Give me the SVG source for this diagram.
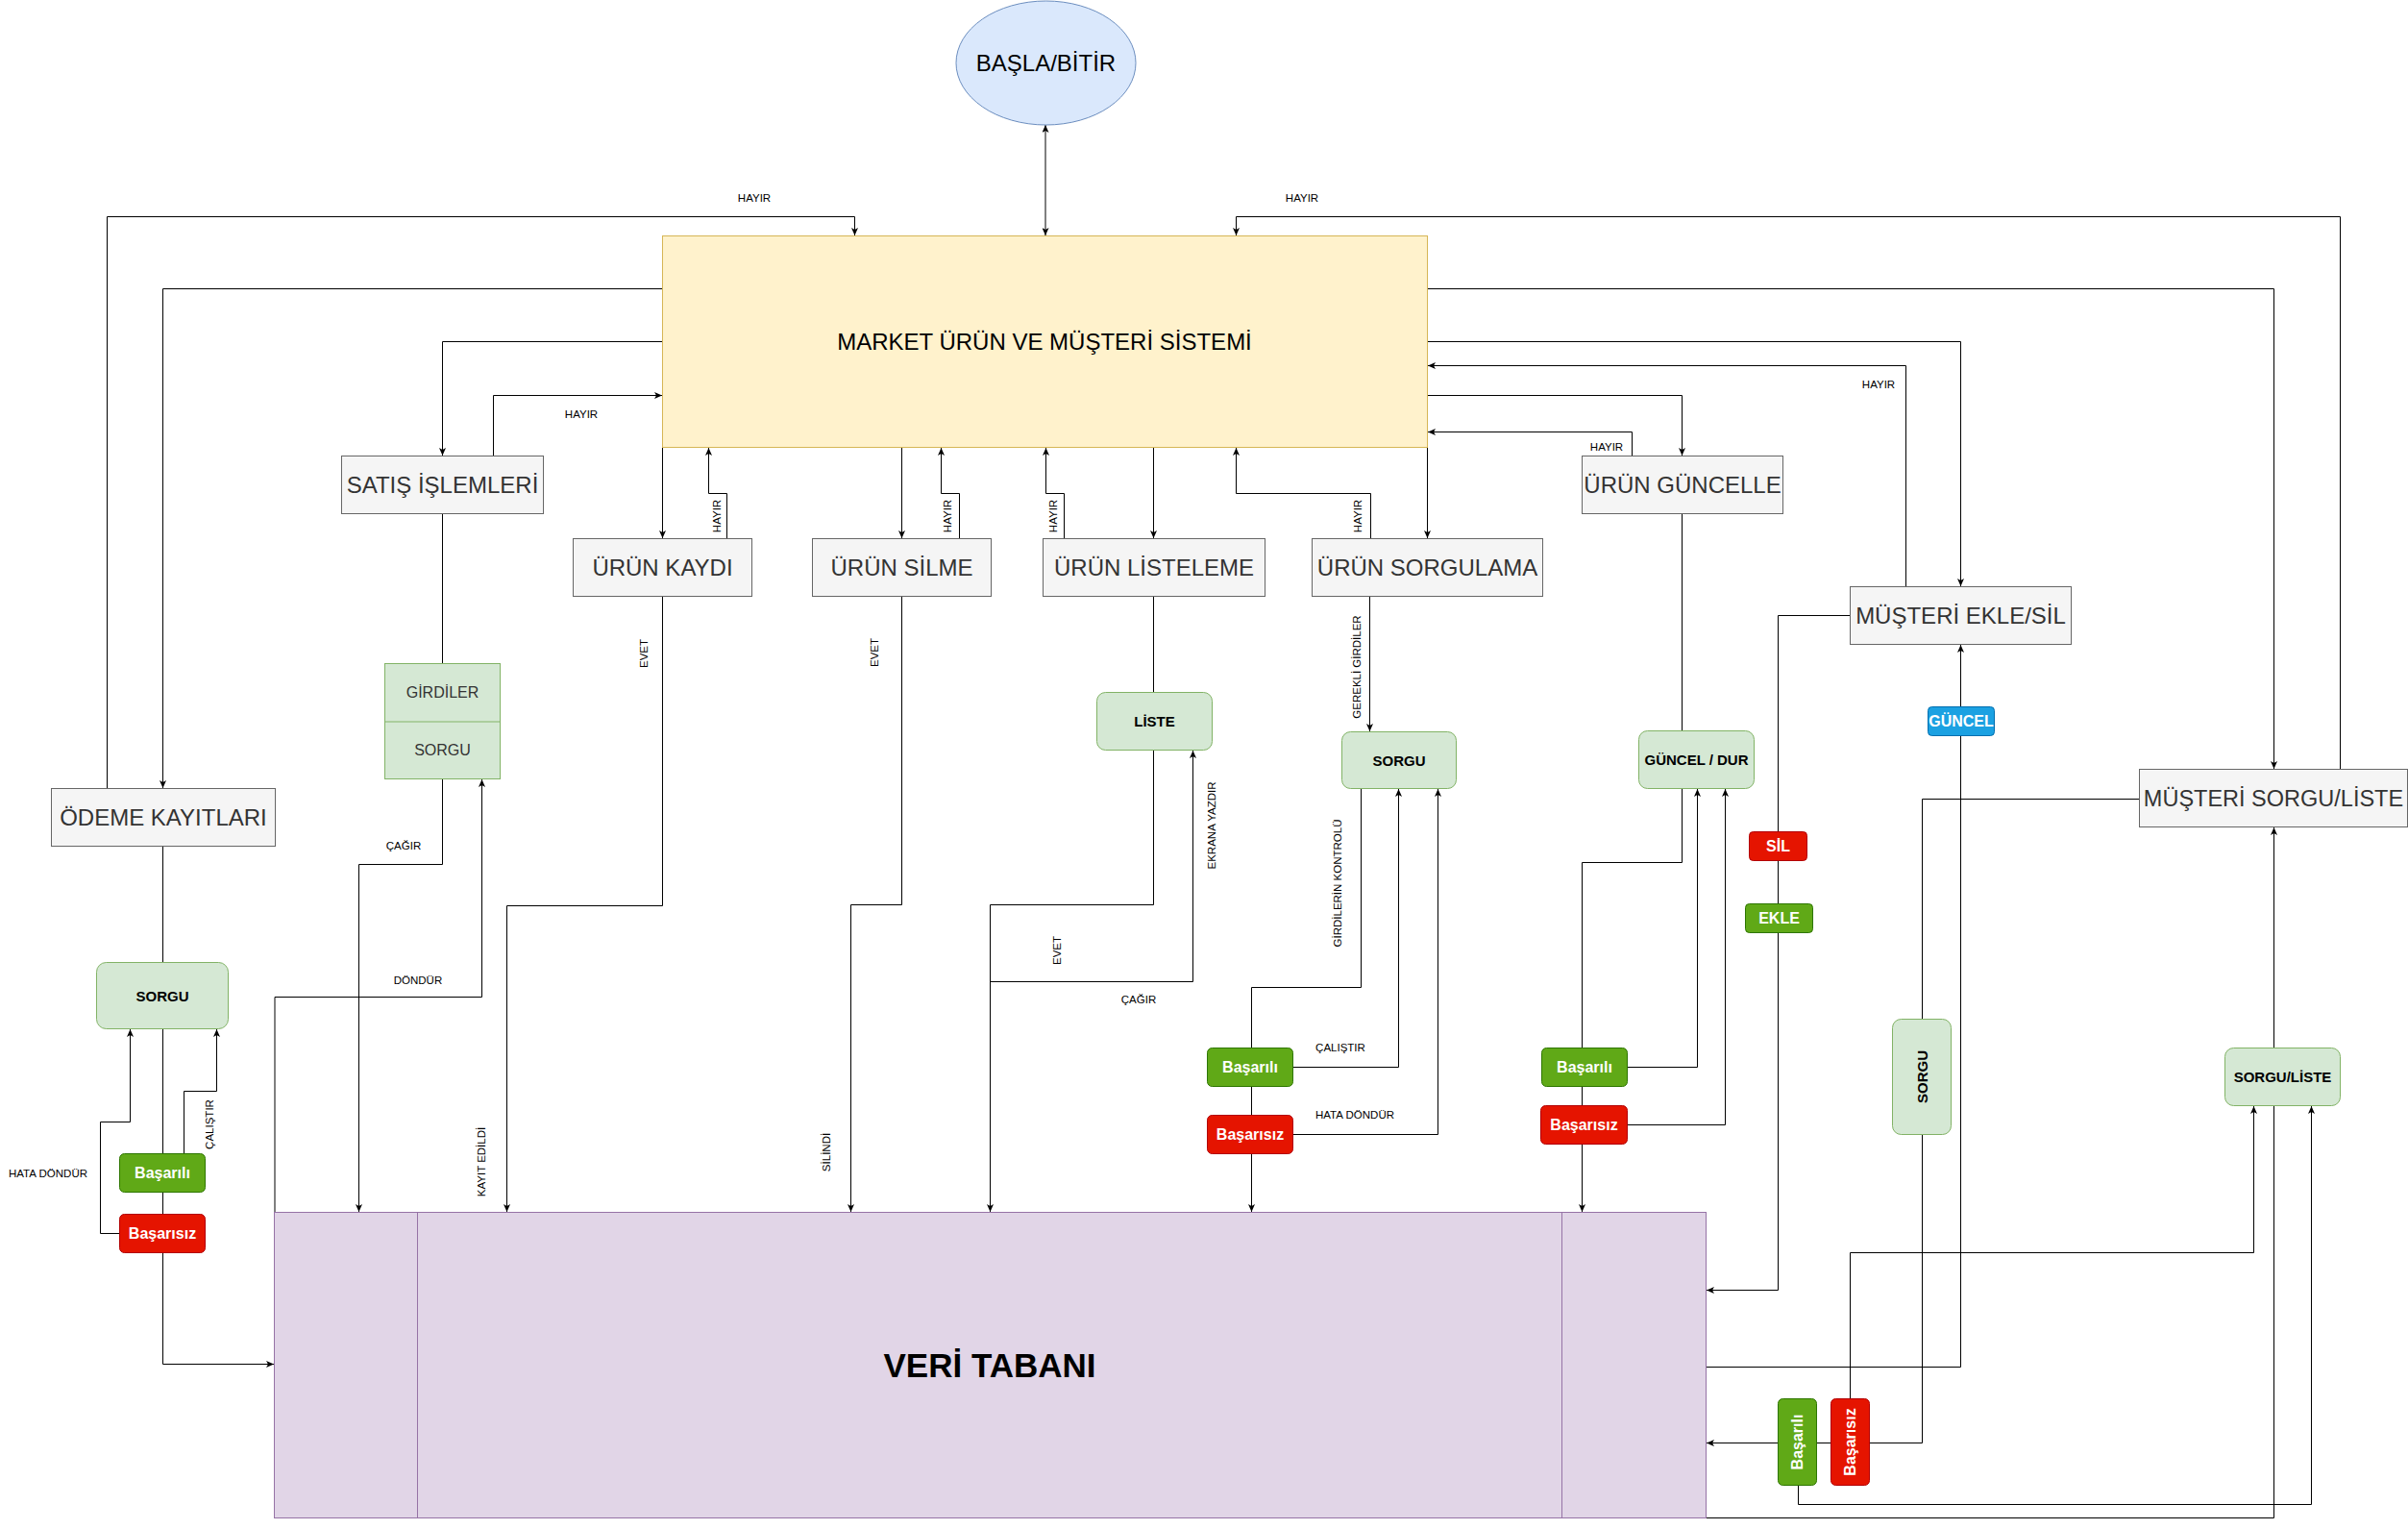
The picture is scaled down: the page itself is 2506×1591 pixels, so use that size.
<svg xmlns="http://www.w3.org/2000/svg" width="2506" height="1591" viewBox="0 0 2506 1591">
<defs>
<marker id="a" viewBox="0 0 8 7" refX="8" refY="3.5" markerWidth="8" markerHeight="7" markerUnits="userSpaceOnUse" orient="auto-start-reverse">
<path d="M0,0 L8,3.5 L0,7 L2,3.5 Z" fill="#000"/>
</marker>
<style>
text{font-family:"Liberation Sans",Arial,sans-serif;}
.e{fill:none;stroke:#000;stroke-width:1;}
.ea{fill:none;stroke:#000;stroke-width:1;marker-end:url(#a);}
.gb{fill:#f5f5f5;stroke:#666;stroke-width:1;}
.gt{font-size:24px;fill:#333;text-anchor:middle;}
.gr{fill:#d5e8d4;stroke:#82b366;stroke-width:1;}
.bt{font-size:15px;font-weight:bold;fill:#000;text-anchor:middle;}
.ok{fill:#60a917;stroke:#2d7600;stroke-width:1;}
.no{fill:#e51400;stroke:#b20000;stroke-width:1;}
.bl{fill:#1ba1e2;stroke:#006eaf;stroke-width:1;}
.wt{font-size:16px;font-weight:bold;fill:#fff;text-anchor:middle;}
.lb{font-size:11.5px;fill:#000;text-anchor:middle;}
</style>
</defs>
<rect x="0" y="0" width="2506" height="1591" fill="#fff"/>

<g id="connectors">
<path class="e" d="M1088,130 L1088,245" marker-start="url(#a)" marker-end="url(#a)"/>
<path class="ea" d="M689.5,300.5 L169.5,300.5 L169.5,820"/>
<path class="ea" d="M111.5,820 L111.5,225.5 L889.5,225.5 L889.5,245"/>
<path class="ea" d="M689.5,355.5 L460.5,355.5 L460.5,474"/>
<path class="ea" d="M513.5,474 L513.5,411.5 L689,411.5"/>
<path class="ea" d="M689.5,465 L689.5,560"/>
<path class="ea" d="M756.5,560 L756.5,513.5 L737.5,513.5 L737.5,466"/>
<path class="ea" d="M938.5,465 L938.5,560"/>
<path class="ea" d="M998.5,560 L998.5,513.5 L979.5,513.5 L979.5,466"/>
<path class="ea" d="M1200.5,465 L1200.5,560"/>
<path class="ea" d="M1107.5,560 L1107.5,513.5 L1088.5,513.5 L1088.5,466"/>
<path class="ea" d="M1485.5,465 L1485.5,560"/>
<path class="ea" d="M1426.5,560 L1426.5,513.5 L1286.5,513.5 L1286.5,466"/>
<path class="ea" d="M1485.5,411.5 L1750.5,411.5 L1750.5,474"/>
<path class="ea" d="M1698.5,474 L1698.5,449.5 L1486,449.5"/>
<path class="ea" d="M1485.5,355.5 L2040.5,355.5 L2040.5,610"/>
<path class="ea" d="M1983.5,610 L1983.5,380.5 L1486,380.5"/>
<path class="ea" d="M1485.5,300.5 L2366.5,300.5 L2366.5,800"/>
<path class="ea" d="M2435.5,800 L2435.5,225.5 L1286.5,225.5 L1286.5,245"/>

<path class="e" d="M169.5,880 L169.5,1001"/>
<path class="ea" d="M169.5,1070 L169.5,1419.5 L285,1419.5"/>
<path class="ea" d="M191.5,1200 L191.5,1135.5 L225.5,1135.5 L225.5,1071"/>
<path class="ea" d="M124,1283.5 L104.5,1283.5 L104.5,1167.5 L135.5,1167.5 L135.5,1071"/>

<path class="e" d="M460.5,534 L460.5,690"/>
<path class="ea" d="M460.5,810 L460.5,899.5 L373.5,899.5 L373.5,1261"/>
<path class="ea" d="M286,1261 L286,1037.5 L501.5,1037.5 L501.5,811"/>

<path class="ea" d="M689.5,620 L689.5,942.5 L527.5,942.5 L527.5,1261"/>
<path class="ea" d="M938.5,620 L938.5,941.5 L885.5,941.5 L885.5,1261"/>
<path class="e" d="M1200.5,620 L1200.5,720"/>
<path class="ea" d="M1200.5,780 L1200.5,941.5 L1030.5,941.5 L1030.5,1261"/>
<path class="ea" d="M1030.5,1261 L1030.5,1021.5 L1241.5,1021.5 L1241.5,781"/>

<path class="ea" d="M1425.5,620 L1425.5,761"/>
<path class="e" d="M1416.5,820 L1416.5,1027.5 L1302.5,1027.5 L1302.5,1090"/>
<path class="ea" d="M1345,1110.5 L1455.5,1110.5 L1455.5,821"/>
<path class="ea" d="M1345,1180.5 L1496.5,1180.5 L1496.5,821"/>
<path class="ea" d="M1302.5,1130 L1302.5,1261"/>

<path class="e" d="M1750.5,534 L1750.5,760"/>
<path class="e" d="M1750.5,820 L1750.5,897.5 L1646.5,897.5 L1646.5,1090"/>
<path class="ea" d="M1693,1110.5 L1766.5,1110.5 L1766.5,821"/>
<path class="ea" d="M1693,1170.5 L1795.5,1170.5 L1795.5,821"/>
<path class="ea" d="M1646.5,1130 L1646.5,1261"/>

<path class="ea" d="M1925,640.5 L1850.5,640.5 L1850.5,1342.5 L1776,1342.5"/>
<path class="ea" d="M1776,1422.5 L2040.5,1422.5 L2040.5,671"/>
<path class="e" d="M2226,831.5 L2000.5,831.5 L2000.5,1060"/>
<path class="ea" d="M2000.5,1180 L2000.5,1501.5 L1776,1501.5"/>
<path class="ea" d="M1925.5,1455 L1925.5,1303.5 L2345.5,1303.5 L2345.5,1151"/>
<path class="ea" d="M1871.5,1545 L1871.5,1565.5 L2405.5,1565.5 L2405.5,1151"/>
<path class="ea" d="M1776,1579.5 L2366.5,1579.5 L2366.5,861"/>

<text class="lb" x="785" y="210">HAYIR</text>
<text class="lb" x="1355" y="210">HAYIR</text>
<text class="lb" x="605" y="435">HAYIR</text>
<text class="lb" x="1672" y="469">HAYIR</text>
<text class="lb" x="1955" y="404">HAYIR</text>
<text class="lb" transform="translate(750,537) rotate(-90)">HAYIR</text>
<text class="lb" transform="translate(990,537) rotate(-90)">HAYIR</text>
<text class="lb" transform="translate(1100,537) rotate(-90)">HAYIR</text>
<text class="lb" transform="translate(1417,537) rotate(-90)">HAYIR</text>
<text class="lb" transform="translate(674,680) rotate(-90)">EVET</text>
<text class="lb" transform="translate(914,679) rotate(-90)">EVET</text>
<text class="lb" transform="translate(1104,989) rotate(-90)">EVET</text>
<text class="lb" transform="translate(505,1209) rotate(-90)">KAYIT EDİLDİ</text>
<text class="lb" transform="translate(864,1199) rotate(-90)">SİLİNDİ</text>
<text class="lb" transform="translate(1265,859) rotate(-90)">EKRANA YAZDIR</text>
<text class="lb" transform="translate(1416,694) rotate(-90)">GEREKLİ GİRDİLER</text>
<text class="lb" transform="translate(1396,919) rotate(-90)">GİRDİLERİN KONTROLÜ</text>
<text class="lb" transform="translate(222,1170) rotate(-90)">ÇALIŞTIR</text>
<text class="lb" x="420" y="884">ÇAĞIR</text>
<text class="lb" x="435" y="1024">DÖNDÜR</text>
<text class="lb" x="1185" y="1044">ÇAĞIR</text>
<text class="lb" x="1395" y="1094">ÇALIŞTIR</text>
<text class="lb" x="1410" y="1164">HATA DÖNDÜR</text>
<text class="lb" x="50" y="1225">HATA DÖNDÜR</text>
</g>

<g id="start">
<ellipse cx="1088.5" cy="65.5" rx="93.5" ry="64.5" fill="#dae8fc" stroke="#6c8ebf" stroke-width="1"/>
<text x="1088.5" y="74" font-size="24" text-anchor="middle" fill="#000">BAŞLA/BİTİR</text>
</g>
<g id="market">
<rect x="689.5" y="245.5" width="796" height="220" fill="#fff2cc" stroke="#d6b656" stroke-width="1"/>
<text x="1087" y="364" font-size="24" text-anchor="middle" fill="#000">MARKET ÜRÜN VE MÜŞTERİ SİSTEMİ</text>
</g>
<g id="satis"><rect class="gb" x="355.5" y="474.5" width="210" height="60"/><text class="gt" x="460.5" y="513">SATIŞ İŞLEMLERİ</text></g>
<g id="kaydi"><rect class="gb" x="596.5" y="560.5" width="186" height="60"/><text class="gt" x="689.5" y="599">ÜRÜN KAYDI</text></g>
<g id="silme"><rect class="gb" x="845.5" y="560.5" width="186" height="60"/><text class="gt" x="938.5" y="599">ÜRÜN SİLME</text></g>
<g id="listeleme"><rect class="gb" x="1085.5" y="560.5" width="231" height="60"/><text class="gt" x="1201" y="599">ÜRÜN LİSTELEME</text></g>
<g id="sorgulama"><rect class="gb" x="1365.5" y="560.5" width="240" height="60"/><text class="gt" x="1485.5" y="599">ÜRÜN SORGULAMA</text></g>
<g id="guncelle"><rect class="gb" x="1646.5" y="474.5" width="209" height="60"/><text class="gt" x="1751" y="513">ÜRÜN GÜNCELLE</text></g>
<g id="musteri-ekle"><rect class="gb" x="1925.5" y="610.5" width="230" height="60"/><text class="gt" x="2040.5" y="649">MÜŞTERİ EKLE/SİL</text></g>
<g id="musteri-sorgu"><rect class="gb" x="2226.5" y="800.5" width="279" height="60"/><text class="gt" x="2366" y="839" style="font-size:23.5px">MÜŞTERİ SORGU/LİSTE</text></g>
<g id="odeme"><rect class="gb" x="53.5" y="820.5" width="233" height="60"/><text class="gt" x="170" y="859">ÖDEME KAYITLARI</text></g>

<g id="girdiler">
<rect class="gr" x="400.5" y="690.5" width="120" height="120"/>
<line x1="400.5" y1="751" x2="520.5" y2="751" stroke="#82b366" stroke-width="1"/>
<text x="460.5" y="726" font-size="16" fill="#333" text-anchor="middle">GİRDİLER</text>
<text x="460.5" y="786" font-size="16" fill="#333" text-anchor="middle">SORGU</text>
</g>
<g id="liste"><rect class="gr" x="1141.5" y="720.5" width="120" height="60" rx="9"/><text class="bt" x="1201.5" y="756">LİSTE</text></g>
<g id="sorgu-urun"><rect class="gr" x="1396.5" y="761.5" width="119" height="59" rx="9"/><text class="bt" x="1456" y="796.5">SORGU</text></g>
<g id="guncel-dur"><rect class="gr" x="1705.5" y="760.5" width="120" height="60" rx="9"/><text class="bt" x="1765.5" y="796">GÜNCEL / DUR</text></g>
<g id="sorgu-odeme"><rect class="gr" x="100.5" y="1001.5" width="137" height="69" rx="10"/><text class="bt" x="169" y="1041.5">SORGU</text></g>
<g id="sorgu-liste"><rect class="gr" x="2315.5" y="1090.5" width="120" height="60" rx="9"/><text class="bt" x="2375.5" y="1126">SORGU/LİSTE</text></g>
<g id="sorgu-musteri"><rect class="gr" x="1969.5" y="1060.5" width="61" height="120" rx="9"/><text class="bt" transform="translate(2005.5,1120.5) rotate(-90)">SORGU</text></g>

<g id="odeme-basarili"><rect class="ok" x="124.5" y="1200.5" width="89" height="40" rx="5"/><text class="wt" x="169" y="1226">Başarılı</text></g>
<g id="odeme-basarisiz"><rect class="no" x="124.5" y="1263.5" width="89" height="40" rx="5"/><text class="wt" x="169" y="1289">Başarısız</text></g>
<g id="sorgu-basarili"><rect class="ok" x="1256.5" y="1090.5" width="89" height="40" rx="5"/><text class="wt" x="1301" y="1116">Başarılı</text></g>
<g id="sorgu-basarisiz"><rect class="no" x="1256.5" y="1160.5" width="89" height="40" rx="5"/><text class="wt" x="1301" y="1186">Başarısız</text></g>
<g id="guncel-basarili"><rect class="ok" x="1604.5" y="1090.5" width="89" height="40" rx="5"/><text class="wt" x="1649" y="1116">Başarılı</text></g>
<g id="guncel-basarisiz"><rect class="no" x="1603.5" y="1150.5" width="90" height="40" rx="5"/><text class="wt" x="1648.5" y="1176">Başarısız</text></g>
<g id="musteri-basarili"><rect class="ok" x="1850.5" y="1455.5" width="40" height="90" rx="5"/><text class="wt" transform="translate(1876,1500.5) rotate(-90)">Başarılı</text></g>
<g id="musteri-basarisiz"><rect class="no" x="1905.5" y="1455.5" width="40" height="90" rx="5"/><text class="wt" transform="translate(1931,1500.5) rotate(-90)">Başarısız</text></g>
<g id="sil"><rect class="no" x="1820.5" y="865.5" width="60" height="30" rx="4"/><text class="wt" x="1850.5" y="886">SİL</text></g>
<g id="ekle"><rect class="ok" x="1816.5" y="940.5" width="70" height="30" rx="4"/><text class="wt" x="1851.5" y="961">EKLE</text></g>
<g id="guncel"><rect class="bl" x="2006.5" y="735.5" width="69" height="30" rx="4"/><text class="wt" x="2041" y="756">GÜNCEL</text></g>

<g id="veritabani">
<rect x="285.5" y="1261.5" width="1490" height="318" fill="#e1d5e7" stroke="#9673a6" stroke-width="1"/>
<line x1="434.5" y1="1261.5" x2="434.5" y2="1579.5" stroke="#9673a6" stroke-width="1"/>
<line x1="1625.5" y1="1261.5" x2="1625.5" y2="1579.5" stroke="#9673a6" stroke-width="1"/>
<text x="1030" y="1433" font-size="35" font-weight="bold" text-anchor="middle" fill="#000">VERİ TABANI</text>
</g>
</svg>
